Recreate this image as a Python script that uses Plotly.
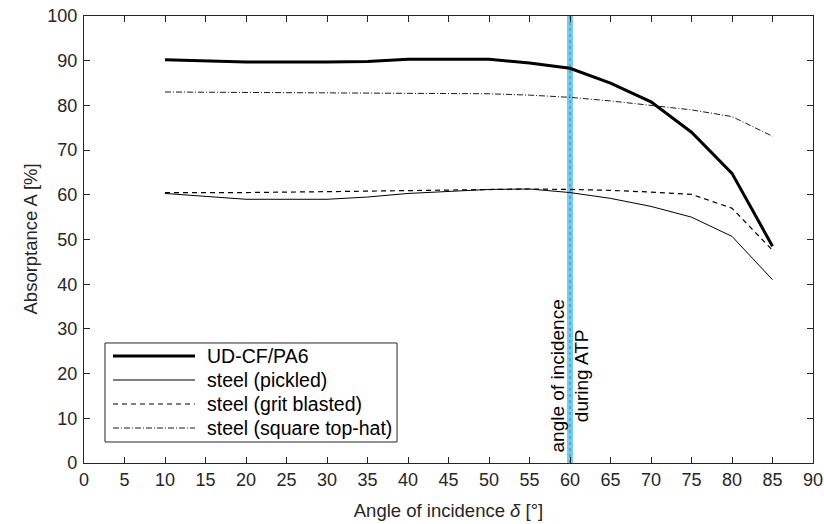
import plotly.graph_objects as go

# Angle of incidence (degrees)
angle = [10, 20, 30, 35, 40, 50, 55, 60, 65, 70, 75, 80, 85]

# Absorptance (%) per material
ud_cf_pa6 = [90.2, 89.7, 89.7, 89.8, 90.3, 90.3, 89.5, 88.3, 85.0, 80.8, 74.0, 64.8, 48.5]
steel_pickled = [60.3, 59.0, 59.0, 59.5, 60.3, 61.2, 61.3, 60.5, 59.2, 57.4, 55.0, 50.7, 41.0]
steel_grit = [60.5, 60.5, 60.7, 60.8, 61.0, 61.2, 61.3, 61.2, 61.0, 60.6, 60.1, 57.0, 47.6]
steel_tophat = [83.0, 82.9, 82.8, 82.8, 82.8, 82.6, 82.3, 81.8, 81.0, 80.0, 79.0, 77.5, 73.1]

series_names = ["UD-CF/PA6", "steel (pickled)", "steel (grit blasted)", "steel (square top-hat)"]
series_values = [ud_cf_pa6, steel_pickled, steel_grit, steel_tophat]
series_lines = [
    dict(color="black", width=3),
    dict(color="black", width=1),
    dict(color="black", width=1.2, dash="5px,4px"),
    dict(color="black", width=0.9, dash="6px,2px,1px,2px"),
]

atp_angle = 60

axis_col = "#262626"
font_family = "Liberation Sans, Arial, sans-serif"

fig = go.Figure()

# ATP process angle: light blue band with dotted centre line
fig.add_trace(go.Scatter(x=[atp_angle, atp_angle], y=[0, 100], mode="lines",
                         line=dict(color="rgb(115,205,240)", width=6),
                         showlegend=False, hoverinfo="skip"))
fig.add_trace(go.Scatter(x=[atp_angle, atp_angle], y=[0, 100], mode="lines",
                         line=dict(color="rgb(45,135,185)", width=1, dash="dot"),
                         showlegend=False, hoverinfo="skip"))

for name, vals, ln in zip(series_names, series_values, series_lines):
    fig.add_trace(go.Scatter(x=angle, y=vals, mode="lines", name=name, line=ln,
                             showlegend=False))

fig.add_annotation(x=atp_angle, y=1.8, xref="x", yref="y",
                   text="angle of incidence<br>during ATP", textangle=-90,
                   showarrow=False, xanchor="center", yanchor="bottom", align="center",
                   font=dict(family=font_family, size=19, color="black"))

# Legend box drawn in paper coordinates
fig.add_shape(type="rect", xref="paper", yref="paper",
              x0=0.0288, x1=0.4294, y0=0.047, y1=0.2685,
              line=dict(color=axis_col, width=1), fillcolor="white", layer="above")
row_y = [0.2394, 0.1857, 0.132, 0.0783]
for name, ln, yy in zip(series_names, series_lines, row_y):
    fig.add_shape(type="line", xref="paper", yref="paper",
                  x0=0.0398, x1=0.1523, y0=yy, y1=yy, line=ln, layer="above")
    fig.add_annotation(x=0.166, y=yy, xref="paper", yref="paper", text=name,
                       showarrow=False, xanchor="left", yanchor="middle",
                       font=dict(family=font_family, size=19.5, color="black"))

# Y-axis title placed as an annotation for precise positioning
fig.add_annotation(x=0, y=0.5, xref="paper", yref="paper", xshift=-54,
                   text="Absorptance A [%]", textangle=-90, showarrow=False,
                   xanchor="center", yanchor="middle",
                   font=dict(family=font_family, size=18.5, color=axis_col))

axis_common = dict(showline=True, linecolor=axis_col, linewidth=1.2, mirror="ticks",
                   ticks="inside", ticklen=6, tickcolor=axis_col, tickwidth=1,
                   showgrid=False, zeroline=False, automargin=False,
                   tickfont=dict(family=font_family, size=18, color=axis_col))

fig.update_xaxes(range=[0, 90], tickmode="array", tickvals=list(range(0, 95, 5)),
                 title=dict(text="Angle of incidence <i>δ</i> [°]",
                            font=dict(family=font_family, size=18.5, color=axis_col)),
                 **axis_common)
fig.update_yaxes(range=[0, 100], tickmode="array", tickvals=list(range(0, 110, 10)),
                 ticklabelstandoff=2, **axis_common)

fig.update_layout(
    width=824, height=524,
    margin=dict(l=84, r=11, t=16, b=61),
    plot_bgcolor="white", paper_bgcolor="white",
    showlegend=False,
)

fig.write_html("out.html")
